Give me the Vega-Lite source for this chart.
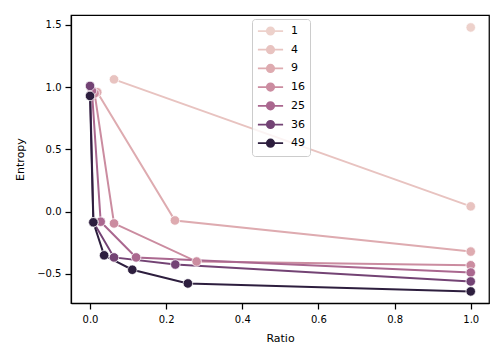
{
  "$schema": "https://vega.github.io/schema/vega-lite/v6.json",
  "autosize": {"type": "none"},
  "width": 418,
  "height": 288,
  "padding": {"left": 71, "top": 15, "right": 15, "bottom": 57},
  "config": {
    "font": "DejaVu Sans",
    "view": {"stroke": "black", "strokeWidth": 1.25},
    "axis": {
      "grid": false,
      "domainColor": "black",
      "domainWidth": 1.25,
      "tickColor": "black",
      "tickWidth": 1.25,
      "tickSize": 6,
      "labelFontSize": 10,
      "labelColor": "black",
      "labelFont": "DejaVu Sans",
      "titleFont": "DejaVu Sans",
      "titleFontSize": 11,
      "titleFontWeight": "normal",
      "titleColor": "black"
    }
  },
  "data": {
    "values": [
      {"n": 1, "ratio": 1.0, "entropy": 1.48},
      {"n": 4, "ratio": 0.063, "entropy": 1.063},
      {"n": 4, "ratio": 1.0, "entropy": 0.043},
      {"n": 9, "ratio": 0.019, "entropy": 0.96},
      {"n": 9, "ratio": 0.223, "entropy": -0.07},
      {"n": 9, "ratio": 1.0, "entropy": -0.32},
      {"n": 16, "ratio": 0.012, "entropy": 0.95},
      {"n": 16, "ratio": 0.063, "entropy": -0.094},
      {"n": 16, "ratio": 0.28, "entropy": -0.4},
      {"n": 16, "ratio": 1.0, "entropy": -0.43},
      {"n": 25, "ratio": 0.005, "entropy": 0.97},
      {"n": 25, "ratio": 0.028, "entropy": -0.08},
      {"n": 25, "ratio": 0.121, "entropy": -0.367},
      {"n": 25, "ratio": 1.0, "entropy": -0.488},
      {"n": 36, "ratio": 0.0, "entropy": 1.01},
      {"n": 36, "ratio": 0.009, "entropy": -0.085},
      {"n": 36, "ratio": 0.063, "entropy": -0.367},
      {"n": 36, "ratio": 0.224, "entropy": -0.424},
      {"n": 36, "ratio": 1.0, "entropy": -0.56},
      {"n": 49, "ratio": 0.0, "entropy": 0.93},
      {"n": 49, "ratio": 0.0087, "entropy": -0.085},
      {"n": 49, "ratio": 0.037, "entropy": -0.35},
      {"n": 49, "ratio": 0.111, "entropy": -0.466},
      {"n": 49, "ratio": 0.257, "entropy": -0.576},
      {"n": 49, "ratio": 1.0, "entropy": -0.64}
    ]
  },
  "encoding": {
    "x": {
      "field": "ratio",
      "type": "quantitative",
      "title": "Ratio",
      "scale": {"domain": [-0.05, 1.048], "nice": false, "zero": false},
      "axis": {"values": [0, 0.2, 0.4, 0.6, 0.8, 1.0], "format": ".1f", "labelPadding": 5, "titlePadding": 8}
    },
    "y": {
      "field": "entropy",
      "type": "quantitative",
      "title": "Entropy",
      "scale": {"domain": [-0.733, 1.58], "nice": false, "zero": false},
      "axis": {
        "values": [-0.5, 0, 0.5, 1.0, 1.5],
        "labelExpr": "replace(format(datum.value, '.1f'), '-', '\u2212')",
        "labelPadding": 4,
        "titlePadding": 11
      }
    },
    "color": {
      "field": "n",
      "type": "ordinal",
      "scale": {
        "domain": [1, 4, 9, 16, 25, 36, 49],
        "range": ["#edd1cb", "#e8c3c0", "#deabb0", "#cb8ca0", "#aa678f", "#734374", "#2d1e3e"]
      },
      "legend": {
        "title": null,
        "orient": "none",
        "legendX": 181,
        "legendY": 4,
        "padding": 5,
        "strokeColor": "#cccccc",
        "fillColor": "rgba(255,255,255,0.8)",
        "cornerRadius": 3,
        "labelFontSize": 11,
        "labelFont": "DejaVu Sans",
        "labelColor": "black",
        "symbolType": "M-1.8,0L1.8,0M-0.53,0A0.53,0.53,0,1,0,0.53,0A0.53,0.53,0,1,0,-0.53,0Z",
        "symbolSize": 196,
        "symbolStrokeWidth": 1.75,
        "symbolOpacity": 1,
        "symbolOffset": 5.5,
        "labelOffset": 12.5,
        "clipHeight": 14,
        "rowPadding": 4.7,
        "encode": {
          "symbols": {
            "update": {
              "stroke": {"scale": "color", "field": "value"},
              "fill": {"scale": "color", "field": "value"},
              "strokeWidth": {"value": 1.75}
            }
          }
        }
      }
    }
  },
  "layer": [
    {"mark": {"type": "line", "strokeWidth": 2}},
    {"mark": {"type": "point", "filled": true, "size": 90, "opacity": 1, "stroke": "white", "strokeWidth": 0.75}}
  ]
}
